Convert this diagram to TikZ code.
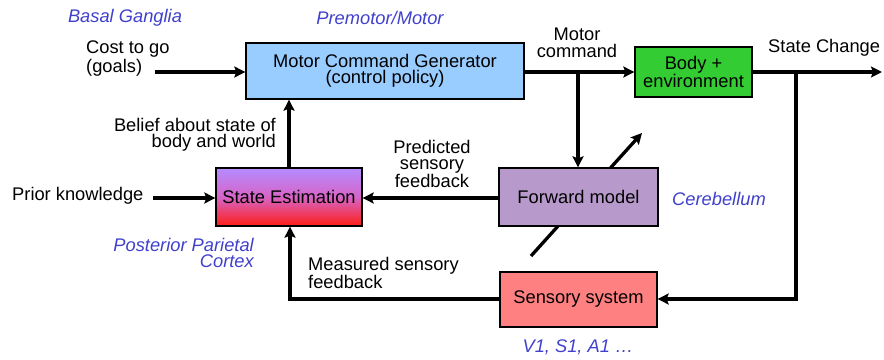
\documentclass[tikz,border=0pt]{standalone}
\usepackage{fontspec}
\setmainfont{Liberation Sans}
\usetikzlibrary{arrows.meta}
\definecolor{areablue}{RGB}{64,64,204}
\definecolor{mcgblue}{RGB}{153,204,255}
\definecolor{bodygreen}{RGB}{51,204,51}
\definecolor{fwdpurple}{RGB}{184,153,204}
\definecolor{senspink}{RGB}{255,128,128}
\definecolor{setop}{RGB}{180,140,255}
\definecolor{semid}{RGB}{215,100,200}
\definecolor{sebot}{RGB}{255,30,20}
\tikzset{
  box/.style={draw=black, line width=1.3pt, inner sep=0pt, font=\fontsize{18.3}{16.5}\selectfont, align=center},
  lbl/.style={inner sep=0pt, font=\fontsize{18.3}{16.5}\selectfont},
  area/.style={inner sep=0pt, text=areablue, font=\fontsize{18.3}{16.5}\selectfont\itshape},
  conn/.style={line width=3.3pt, -{Stealth[length=11pt,width=11pt,inset=2pt]}},
  plain/.style={line width=3.3pt}
}
\begin{document}
\begin{tikzpicture}[x=1pt,y=-1pt]
\useasboundingbox (0,0) rectangle (884,359);
% diagonal arrow (behind forward model)
\coordinate (dA) at (531,256);
\coordinate (dB) at (642,133);
\draw[line width=3.3pt, -{Stealth[length=11pt,width=11pt,inset=2pt]}] (dA) -- (dB);
% boxes
\node[box, fill=mcgblue, minimum width=278pt, minimum height=56pt] (mcg) at (385,71) {Motor Command Generator\\(control policy)};
\node[box, fill=bodygreen, minimum width=117pt, minimum height=50pt] (body) at (693.5,72) {Body +\\environment};
\node[box, fill=fwdpurple, minimum width=159pt, minimum height=58pt] (fwd) at (578.5,197) {Forward model};
\node[box, minimum width=146pt, minimum height=58pt, top color=setop, bottom color=sebot, middle color=semid] (se) at (289,197) {State Estimation};
\node[box, fill=senspink, minimum width=157pt, minimum height=55pt] (sens) at (578.5,299.5) {Sensory system};
% labels
\node[area] (bg) at (125,18) {Basal Ganglia};
\node[area] (pm) at (380,18) {Premotor/Motor};
\node[lbl, align=left, anchor=north west] (cost) at (86,41) {Cost to go\\(goals)};
\node[lbl, align=center] (mc) at (577,43) {Motor\\command};
\node[lbl, anchor=west] (sc) at (768,48) {State Change};
\node[lbl, align=right, anchor=east] (belief) at (276,135) {Belief about state of\\body and world};
\node[lbl, align=center] (pred) at (432,164) {Predicted\\sensory\\feedback};
\node[lbl, anchor=west] (prior) at (12,196) {Prior knowledge};
\node[area, anchor=west] (cb) at (672,199) {Cerebellum};
\node[area, align=right, anchor=east] (ppc) at (254,253) {Posterior Parietal\\Cortex};
\node[lbl, align=left, anchor=west] (meas) at (308,273) {Measured sensory\\feedback};
\node[area] (v1) at (578,347) {V1, S1, A1 \dots};
% connectors
\coordinate (costend) at (155,72);
\draw[conn] (costend) -- (mcg.west |- costend);
\draw[conn] (mcg.east |- costend) -- (body.west |- costend);
\coordinate (mcbranch) at (578,72);
\draw[conn] (mcbranch) -- (fwd.north -| mcbranch);
\coordinate (outend) at (882,72);
\draw[conn] (body.east |- outend) -- (outend);
\coordinate (scbranch) at (796,72);
\coordinate (sccorner) at (796,299);
\draw[conn] (scbranch) -- (sccorner) -- (sens.east |- sccorner);
\draw[conn] (se.north) -- (mcg.south -| se.north);
\coordinate (priorend) at (153,198);
\draw[conn] (priorend) -- (se.west |- priorend);
\draw[conn] (fwd.west |- priorend) -- (se.east |- priorend);
\coordinate (meascorner) at (290,299);
\draw[conn] (sens.west |- meascorner) -- (meascorner) -- (se.south -| meascorner);
\end{tikzpicture}
\end{document}
